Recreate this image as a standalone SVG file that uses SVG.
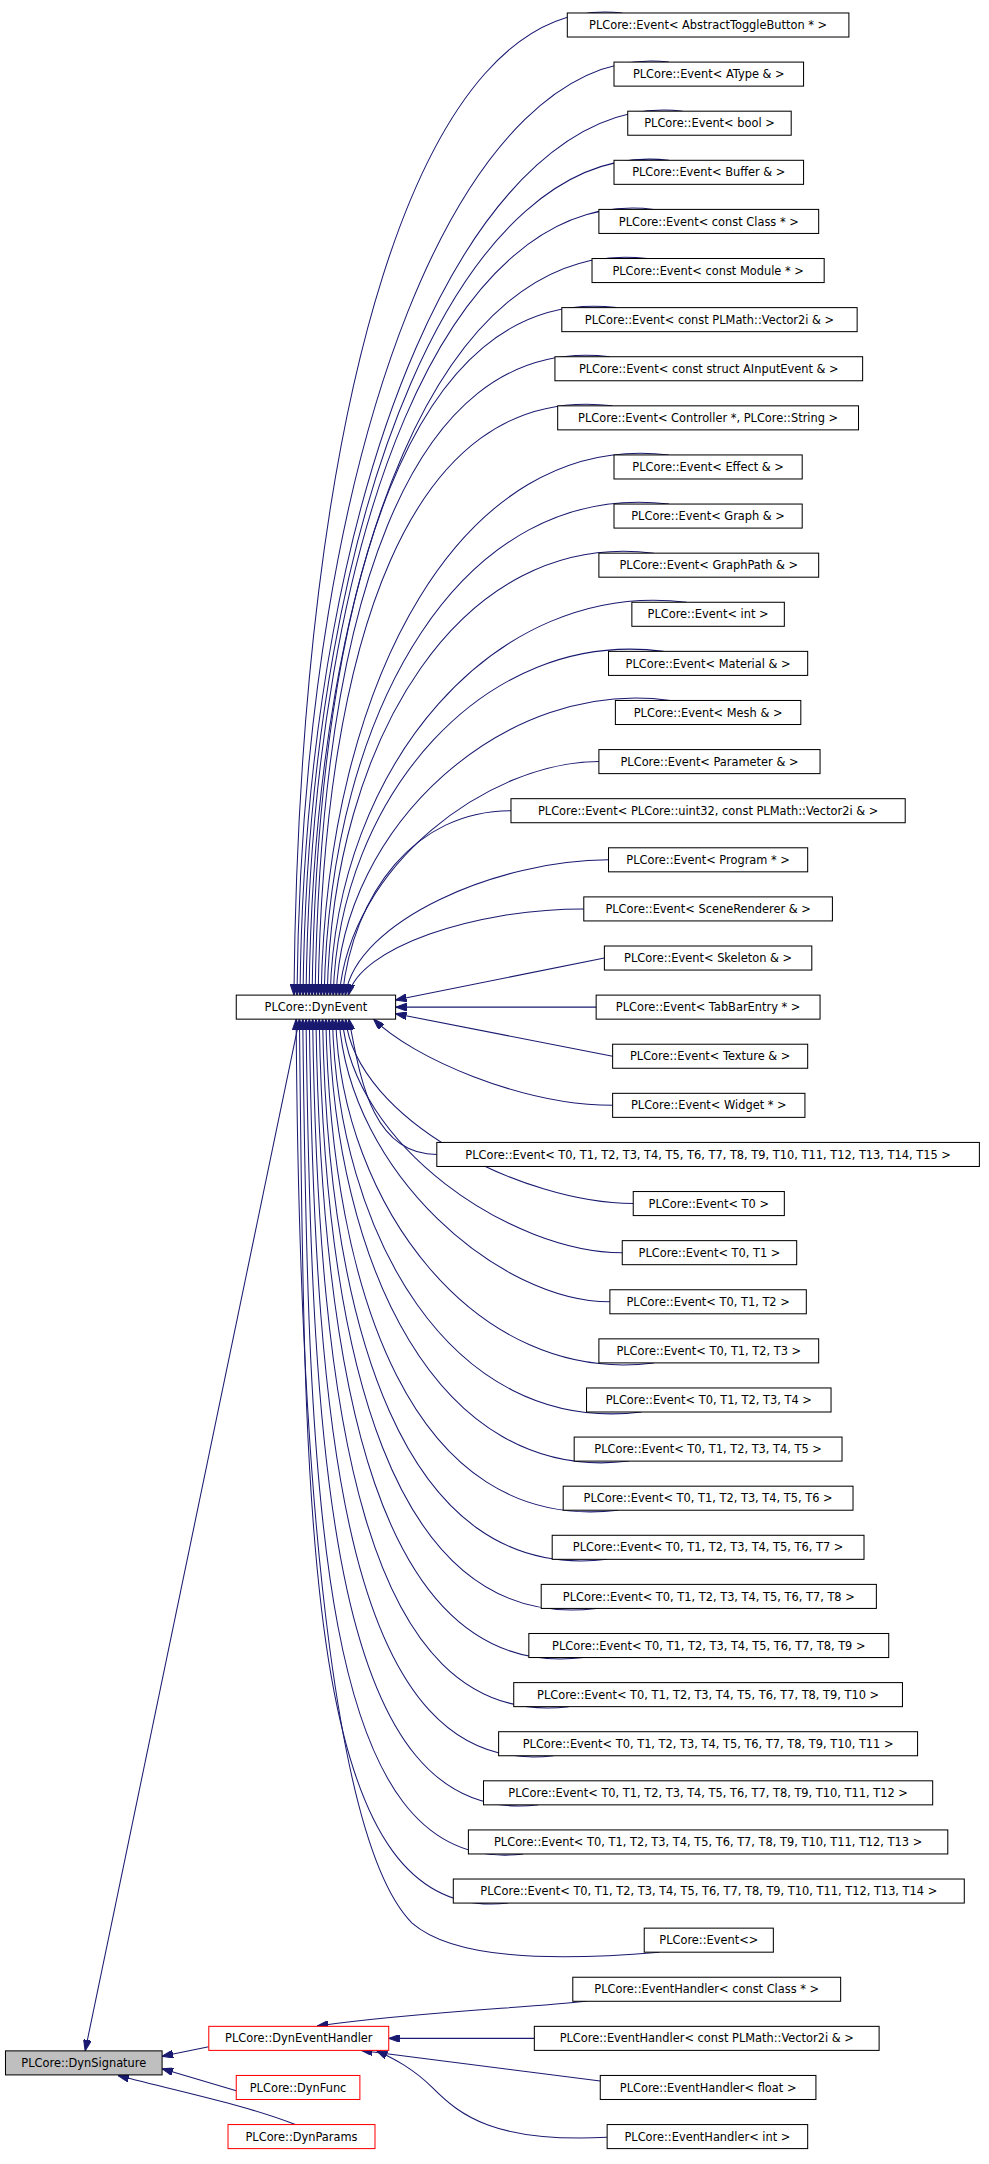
<svg xmlns="http://www.w3.org/2000/svg" width="989" height="2164" viewBox="0 0 989 2164">
<style>
.b{fill:#fff;stroke:#000;stroke-width:0.75}
.r{fill:#fff;stroke:#f00;stroke-width:0.75}
.g{fill:#bfbfbf;stroke:#000;stroke-width:0.75}
text{font-family:"DejaVu Sans","Liberation Sans",sans-serif;font-size:8.3px;text-anchor:middle;fill:#000}
.e path{fill:none;stroke:#191970;stroke-width:0.75;marker-end:url(#a)}
</style>
<defs><marker id="a" viewBox="0 0 10 7" refX="10" refY="3.5" markerUnits="userSpaceOnUse" markerWidth="8" markerHeight="5.6" orient="auto"><path d="M0,0L10,3.5L0,7z" fill="#191970" stroke="#191970"/></marker></defs>
<rect width="989" height="2164" fill="#fff"/>
<g transform="scale(1.37361)">
<g class="e" id="edges">
<path d="M453,9.45C303,-9 218,300 214,724.45"/>
<path d="M487,45.2C337,27 220.2,322 216.2,724.45"/>
<path d="M497,80.95C347,63 222.4,343 218.4,724.45"/>
<path d="M487,116.7C337,99 224.6,365 220.6,724.45"/>
<path d="M476,152.45C326,134 226.8,386 222.8,724.45"/>
<path d="M471,188.2C321,170 229,408 225,724.45"/>
<path d="M449,223.95C299,206 231.2,429 227.2,724.45"/>
<path d="M444,259.7C294,242 233.4,451 229.4,724.45"/>
<path d="M446,295.45C296,277 235.6,472 231.6,724.45"/>
<path d="M487,331.2C337,313 237.8,494 233.8,724.45"/>
<path d="M487,366.95C337,349 240,515 236,724.45"/>
<path d="M476,402.7C336,385 242.2,537 238.2,724.45"/>
<path d="M500,438.45C360,421 244.4,558 240.4,724.45"/>
<path d="M483,474.2C353,457 246.6,580 242.6,724.45"/>
<path d="M488,509.95C368,493 248.8,601 244.8,724.45"/>
<path d="M436,554.45C356,554.45 255,630 247,724.45"/>
<path d="M372,590.2C302,590.2 257.2,650 249.2,724.45"/>
<path d="M443,625.95C363,625.95 259.4,670 251.4,724.45"/>
<path d="M425,661.7C345,661.7 261.6,690 253.6,724.45"/>
<path d="M440,697.45L288,728"/>
<path d="M434,733.2L288,733.2"/>
<path d="M446,768.95L288,738"/>
<path d="M446,804.7C380,804.7 300,770 272,741.95"/>
<path d="M318,840.45C270,840.45 262,783 254,741.95"/>
<path d="M461,876.2C381,876.2 259.6,815 251.6,741.95"/>
<path d="M453,911.95C373,911.95 257.2,835 249.2,741.95"/>
<path d="M444,947.7C364,947.7 254.8,855 246.8,741.95"/>
<path d="M476,992.2C346,1009 248.4,876 244.4,741.95"/>
<path d="M467,1027.95C327,1045 246,897 242,741.95"/>
<path d="M458,1063.7C318,1081 243.6,919 239.6,741.95"/>
<path d="M450,1099.45C300,1117 241.2,940 237.2,741.95"/>
<path d="M442,1135.2C292,1153 238.8,962 234.8,741.95"/>
<path d="M434,1170.95C284,1189 236.4,983 232.4,741.95"/>
<path d="M425,1206.7C275,1225 234,1005 230,741.95"/>
<path d="M414,1242.45C264,1260 231.6,1026 227.6,741.95"/>
<path d="M403,1278.2C253,1296 229.2,1048 225.2,741.95"/>
<path d="M392,1313.95C242,1332 226.8,1069 222.8,741.95"/>
<path d="M381,1349.7C231,1368 224.4,1091 220.4,741.95"/>
<path d="M370,1385.45C220,1403 222,1112 218,741.95"/>
<path d="M480,1421.2C400,1428 330,1426 300,1400C250,1350 218,1134 215.6,741.95"/>
<path d="M218,742L62,1493"/>
<path d="M152,1490L118,1497"/>
<path d="M172,1522L118,1506"/>
<path d="M215,1546.7C180,1533 140,1525 86,1511"/>
<path d="M427,1456.95C380,1462 300,1465 231,1475"/>
<path d="M389,1483.95L283,1483.95"/>
<path d="M437,1515L263,1492.7"/>
<path d="M442,1556C360,1560 335,1540 315,1520C300,1505 285,1498 274,1492.7"/>
</g>
<g id="n0"><rect class="b" x="413" y="9.45" width="205" height="17.5"/><text x="515.5" y="21.2">PLCore::Event&lt; AbstractToggleButton * &gt;</text></g>
<g id="n1"><rect class="b" x="447" y="45.2" width="138" height="17.5"/><text x="516" y="56.95">PLCore::Event&lt; AType &amp; &gt;</text></g>
<g id="n2"><rect class="b" x="457" y="80.95" width="119" height="17.5"/><text x="516.5" y="92.7">PLCore::Event&lt; bool &gt;</text></g>
<g id="n3"><rect class="b" x="447" y="116.7" width="138" height="17.5"/><text x="516" y="128.45">PLCore::Event&lt; Buffer &amp; &gt;</text></g>
<g id="n4"><rect class="b" x="436" y="152.45" width="160" height="17.5"/><text x="516" y="164.2">PLCore::Event&lt; const Class * &gt;</text></g>
<g id="n5"><rect class="b" x="431" y="188.2" width="169" height="17.5"/><text x="515.5" y="199.95">PLCore::Event&lt; const Module * &gt;</text></g>
<g id="n6"><rect class="b" x="409" y="223.95" width="215" height="17.5"/><text x="516.5" y="235.7">PLCore::Event&lt; const PLMath::Vector2i &amp; &gt;</text></g>
<g id="n7"><rect class="b" x="404" y="259.7" width="224" height="17.5"/><text x="516" y="271.45">PLCore::Event&lt; const struct AInputEvent &amp; &gt;</text></g>
<g id="n8"><rect class="b" x="406" y="295.45" width="219" height="17.5"/><text x="515.5" y="307.2">PLCore::Event&lt; Controller *, PLCore::String &gt;</text></g>
<g id="n9"><rect class="b" x="447" y="331.2" width="137" height="17.5"/><text x="515.5" y="342.95">PLCore::Event&lt; Effect &amp; &gt;</text></g>
<g id="n10"><rect class="b" x="447" y="366.95" width="137" height="17.5"/><text x="515.5" y="378.7">PLCore::Event&lt; Graph &amp; &gt;</text></g>
<g id="n11"><rect class="b" x="436" y="402.7" width="160" height="17.5"/><text x="516" y="414.45">PLCore::Event&lt; GraphPath &amp; &gt;</text></g>
<g id="n12"><rect class="b" x="460" y="438.45" width="111" height="17.5"/><text x="515.5" y="450.2">PLCore::Event&lt; int &gt;</text></g>
<g id="n13"><rect class="b" x="443" y="474.2" width="145" height="17.5"/><text x="515.5" y="485.95">PLCore::Event&lt; Material &amp; &gt;</text></g>
<g id="n14"><rect class="b" x="448" y="509.95" width="135" height="17.5"/><text x="515.5" y="521.7">PLCore::Event&lt; Mesh &amp; &gt;</text></g>
<g id="n15"><rect class="b" x="436" y="545.7" width="161" height="17.5"/><text x="516.5" y="557.45">PLCore::Event&lt; Parameter &amp; &gt;</text></g>
<g id="n16"><rect class="b" x="372" y="581.45" width="287" height="17.5"/><text x="515.5" y="593.2">PLCore::Event&lt; PLCore::uint32, const PLMath::Vector2i &amp; &gt;</text></g>
<g id="n17"><rect class="b" x="443" y="617.2" width="145" height="17.5"/><text x="515.5" y="628.95">PLCore::Event&lt; Program * &gt;</text></g>
<g id="n18"><rect class="b" x="425" y="652.95" width="181" height="17.5"/><text x="515.5" y="664.7">PLCore::Event&lt; SceneRenderer &amp; &gt;</text></g>
<g id="n19"><rect class="b" x="440" y="688.7" width="151" height="17.5"/><text x="515.5" y="700.45">PLCore::Event&lt; Skeleton &amp; &gt;</text></g>
<g id="n20"><rect class="b" x="434" y="724.45" width="163" height="17.5"/><text x="515.5" y="736.2">PLCore::Event&lt; TabBarEntry * &gt;</text></g>
<g id="n21"><rect class="b" x="446" y="760.2" width="142" height="17.5"/><text x="517" y="771.95">PLCore::Event&lt; Texture &amp; &gt;</text></g>
<g id="n22"><rect class="b" x="446" y="795.95" width="140" height="17.5"/><text x="516" y="807.7">PLCore::Event&lt; Widget * &gt;</text></g>
<g id="n23"><rect class="b" x="318" y="831.7" width="395" height="17.5"/><text x="515.5" y="843.45">PLCore::Event&lt; T0, T1, T2, T3, T4, T5, T6, T7, T8, T9, T10, T11, T12, T13, T14, T15 &gt;</text></g>
<g id="n24"><rect class="b" x="461" y="867.45" width="110" height="17.5"/><text x="516" y="879.2">PLCore::Event&lt; T0 &gt;</text></g>
<g id="n25"><rect class="b" x="453" y="903.2" width="127" height="17.5"/><text x="516.5" y="914.95">PLCore::Event&lt; T0, T1 &gt;</text></g>
<g id="n26"><rect class="b" x="444" y="938.95" width="143" height="17.5"/><text x="515.5" y="950.7">PLCore::Event&lt; T0, T1, T2 &gt;</text></g>
<g id="n27"><rect class="b" x="436" y="974.7" width="160" height="17.5"/><text x="516" y="986.45">PLCore::Event&lt; T0, T1, T2, T3 &gt;</text></g>
<g id="n28"><rect class="b" x="427" y="1010.45" width="178" height="17.5"/><text x="516" y="1022.2">PLCore::Event&lt; T0, T1, T2, T3, T4 &gt;</text></g>
<g id="n29"><rect class="b" x="418" y="1046.2" width="195" height="17.5"/><text x="515.5" y="1057.95">PLCore::Event&lt; T0, T1, T2, T3, T4, T5 &gt;</text></g>
<g id="n30"><rect class="b" x="410" y="1081.95" width="211" height="17.5"/><text x="515.5" y="1093.7">PLCore::Event&lt; T0, T1, T2, T3, T4, T5, T6 &gt;</text></g>
<g id="n31"><rect class="b" x="402" y="1117.7" width="227" height="17.5"/><text x="515.5" y="1129.45">PLCore::Event&lt; T0, T1, T2, T3, T4, T5, T6, T7 &gt;</text></g>
<g id="n32"><rect class="b" x="394" y="1153.45" width="244" height="17.5"/><text x="516" y="1165.2">PLCore::Event&lt; T0, T1, T2, T3, T4, T5, T6, T7, T8 &gt;</text></g>
<g id="n33"><rect class="b" x="385" y="1189.2" width="262" height="17.5"/><text x="516" y="1200.95">PLCore::Event&lt; T0, T1, T2, T3, T4, T5, T6, T7, T8, T9 &gt;</text></g>
<g id="n34"><rect class="b" x="374" y="1224.95" width="283" height="17.5"/><text x="515.5" y="1236.7">PLCore::Event&lt; T0, T1, T2, T3, T4, T5, T6, T7, T8, T9, T10 &gt;</text></g>
<g id="n35"><rect class="b" x="363" y="1260.7" width="305" height="17.5"/><text x="515.5" y="1272.45">PLCore::Event&lt; T0, T1, T2, T3, T4, T5, T6, T7, T8, T9, T10, T11 &gt;</text></g>
<g id="n36"><rect class="b" x="352" y="1296.45" width="327" height="17.5"/><text x="515.5" y="1308.2">PLCore::Event&lt; T0, T1, T2, T3, T4, T5, T6, T7, T8, T9, T10, T11, T12 &gt;</text></g>
<g id="n37"><rect class="b" x="341" y="1332.2" width="349" height="17.5"/><text x="515.5" y="1343.95">PLCore::Event&lt; T0, T1, T2, T3, T4, T5, T6, T7, T8, T9, T10, T11, T12, T13 &gt;</text></g>
<g id="n38"><rect class="b" x="330" y="1367.95" width="372" height="17.5"/><text x="516" y="1379.7">PLCore::Event&lt; T0, T1, T2, T3, T4, T5, T6, T7, T8, T9, T10, T11, T12, T13, T14 &gt;</text></g>
<g id="n39"><rect class="b" x="469" y="1403.7" width="94" height="17.5"/><text x="516" y="1415.45">PLCore::Event&lt;&gt;</text></g>
<g id="h0"><rect class="b" x="417" y="1439.45" width="195" height="17.5"/><text x="514.5" y="1451.2">PLCore::EventHandler&lt; const Class * &gt;</text></g>
<g id="h1"><rect class="b" x="389" y="1475.2" width="251" height="17.5"/><text x="514.5" y="1486.95">PLCore::EventHandler&lt; const PLMath::Vector2i &amp; &gt;</text></g>
<g id="h2"><rect class="b" x="437" y="1510.95" width="157" height="17.5"/><text x="515.5" y="1522.7">PLCore::EventHandler&lt; float &gt;</text></g>
<g id="h3"><rect class="b" x="442" y="1546.7" width="146" height="17.5"/><text x="515" y="1558.45">PLCore::EventHandler&lt; int &gt;</text></g>
<g id="dynevent"><rect class="b" x="172" y="724.45" width="116" height="17.5"/><text x="230" y="736.2">PLCore::DynEvent</text></g>
<g id="dyneventhandler"><rect class="r" x="152" y="1475.2" width="131" height="17.5"/><text x="217.5" y="1486.95">PLCore::DynEventHandler</text></g>
<g id="dynfunc"><rect class="r" x="172" y="1510.95" width="90" height="17.5"/><text x="217" y="1522.7">PLCore::DynFunc</text></g>
<g id="dynparams"><rect class="r" x="166" y="1546.7" width="107" height="17.5"/><text x="219.5" y="1558.45">PLCore::DynParams</text></g>
<g id="dynsignature"><rect class="g" x="4" y="1493.05" width="114" height="17.5"/><text x="61" y="1504.8">PLCore::DynSignature</text></g>
</g>
</svg>
